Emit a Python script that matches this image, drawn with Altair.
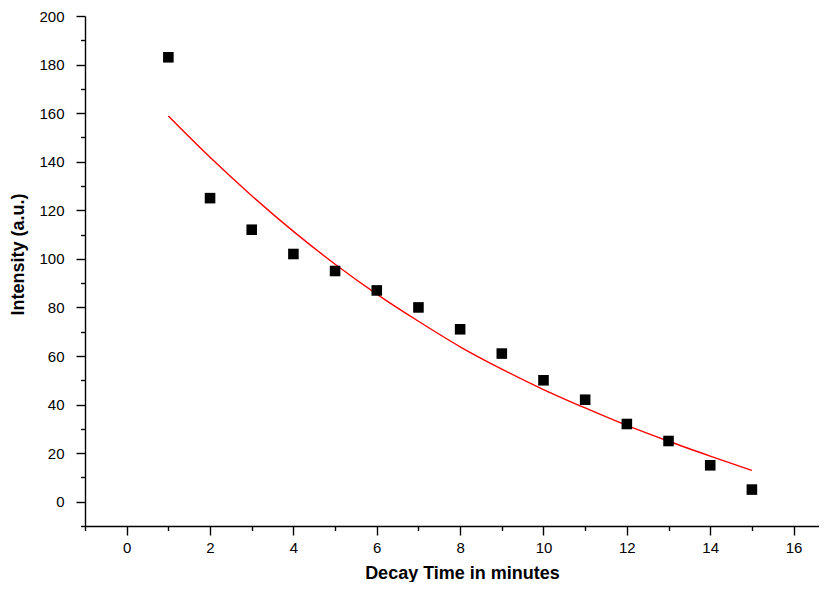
import altair as alt
import pandas as pd

# Measured data points
time_min = [1, 2, 3, 4, 5, 6, 7, 8, 9, 10, 11, 12, 13, 14, 15]
intensity = [183, 125, 112, 102, 95, 87, 80, 71, 61, 50, 42, 32, 25, 15, 5]

# Fitted curve
fit_x = [1, 2, 3, 4, 5, 6, 7, 8, 9, 10, 11, 12, 13, 14, 15]
fit_y = [158.8, 141.8, 126.0, 111.3, 97.8, 85.5, 74.3, 63.8, 54.6, 46.2, 38.6, 31.4, 24.9, 18.8, 12.9]

x_major = [0, 2, 4, 6, 8, 10, 12, 14, 16]
x_minor = [-1, 1, 3, 5, 7, 9, 11, 13, 15]
y_major = [0, 20, 40, 60, 80, 100, 120, 140, 160, 180, 200]
y_minor = [-10, 10, 30, 50, 70, 90, 110, 130, 150, 170, 190]

pts = pd.DataFrame({"t": time_min, "I": intensity})
fit = pd.DataFrame({"t": fit_x, "I": fit_y})

FONT = "Liberation Sans"

x_scale = alt.Scale(domain=[-1, 16.61], nice=False, zero=False)
y_scale = alt.Scale(domain=[-10, 200], nice=False, zero=False)

x_axis = alt.Axis(
    orient="bottom",
    title="Decay Time in minutes",
    values=x_major,
    tickSize=9,
    labelOverlap=False,
    grid=False,
    labelPadding=5,
    titleX=377,
    titleY=52,
    titleBaseline="alphabetic",
)
y_axis = alt.Axis(
    orient="left",
    title="Intensity (a.u.)",
    values=y_major,
    tickSize=9,
    labelOverlap=False,
    grid=False,
    labelPadding=12,
    titleX=-67,
    titleY=238,
    titleBaseline="middle",
)
x_axis_minor = alt.Axis(orient="bottom", title=None, values=x_minor, tickSize=4.5,
                        labels=False, domain=False, grid=False)
y_axis_minor = alt.Axis(orient="left", title=None, values=y_minor, tickSize=4.5,
                        labels=False, domain=False, grid=False)

line = alt.Chart(fit).mark_line(color="#ff0000", strokeWidth=1.4, interpolate="monotone").encode(
    x=alt.X("t:Q", scale=x_scale, axis=None),
    y=alt.Y("I:Q", scale=y_scale, axis=None),
)

points = alt.Chart(pts).mark_square(size=112, color="black", opacity=1).encode(
    x=alt.X("t:Q", scale=x_scale, axis=x_axis),
    y=alt.Y("I:Q", scale=y_scale, axis=y_axis),
)

minor = alt.Chart(pts).mark_point(opacity=0).encode(
    x=alt.X("t:Q", scale=x_scale, axis=x_axis_minor),
    y=alt.Y("I:Q", scale=y_scale, axis=y_axis_minor),
)

chart = (
    alt.layer(line, points, minor)
    .resolve_axis(x="independent", y="independent")
    .properties(
        width=734,
        height=510,
        autosize=alt.AutoSizeParams(type="none"),
        padding={"left": 77, "top": 8, "right": 0, "bottom": 56},
    )
    .configure_view(stroke=None)
    .configure_axis(
        domainColor="black",
        domainWidth=1.4,
        tickColor="black",
        tickWidth=1.4,
        labelColor="black",
        labelFont=FONT,
        labelFontSize=15,
        titleFont=FONT,
        titleFontSize=18,
        titleFontWeight="bold",
        titleColor="black",
    )
)

chart.save("out.html", embed_options={"renderer": "svg", "actions": False})
